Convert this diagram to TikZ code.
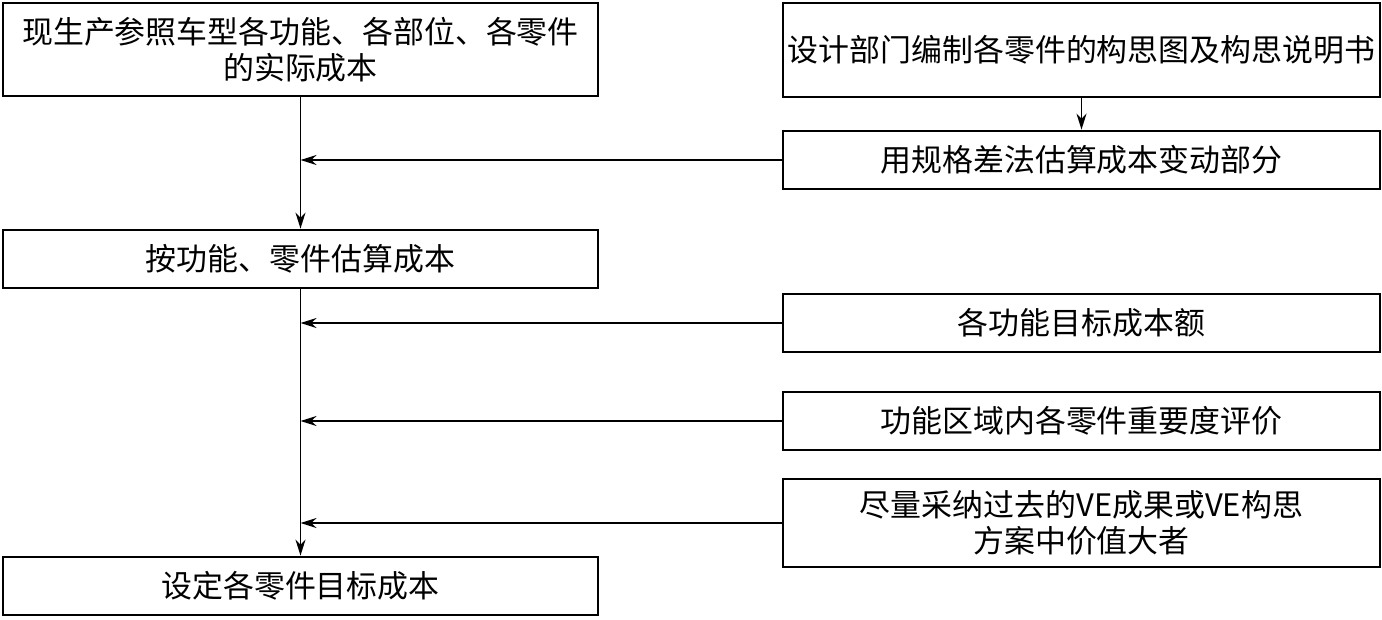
\documentclass[tikz,border=0pt]{standalone}
\usepackage{fontspec}
\setmainfont{Noto Sans CJK SC}
\usetikzlibrary{arrows.meta}

\begin{document}
\begin{tikzpicture}[x=0.02cm, y=-0.02cm,
    every node/.style={font=\fontsize{17.6}{20.5}\selectfont},
    box/.style={draw, line width=1.6pt, inner sep=0pt, align=center},
    lbox/.style={box, minimum width=11.9cm},
    rbox/.style={box, minimum width=11.94cm},
    arr/.style={line width=1.1pt, -{Stealth[length=0.32cm, width=0.2cm]}}]
  \useasboundingbox (0,0) rectangle (1382,619);

  % left column
  \node[lbox, minimum height=1.86cm] (act) at (300.5,49.5) {现生产参照车型各功能、各部位、各零件\\的实际成本};
  \node[lbox, minimum height=1.16cm] (est) at (300.5,259) {按功能、零件估算成本};
  \node[lbox, minimum height=1.16cm] (tgt) at (300.5,586) {设定各零件目标成本};

  % right column
  \node[rbox, minimum height=1.88cm] (dsn) at (1081.5,50) {设计部门编制各零件的构思图及构思说明书};
  \node[rbox, minimum height=1.16cm] (spec) at (1081.5,160) {用规格差法估算成本变动部分};
  \node[rbox, minimum height=1.16cm] (fun) at (1081.5,323) {各功能目标成本额};
  \node[rbox, minimum height=1.16cm] (imp) at (1081.5,421) {功能区域内各零件重要度评价};
  \node[rbox, minimum height=1.76cm] (ve) at (1081.5,523) {尽量采纳过去的VE成果或VE构思\\方案中价值大者};

  % spine
  \draw[arr] (act) -- (est);
  \draw[arr] (est) -- (tgt);
  \draw[arr] (dsn) -- (spec);

  % side inputs
  \draw[arr] (spec.west) -- (act.south |- spec.west);
  \draw[arr] (fun.west) -- (act.south |- fun.west);
  \draw[arr] (imp.west) -- (act.south |- imp.west);
  \draw[arr] (ve.west) -- (act.south |- ve.west);
\end{tikzpicture}
\end{document}
